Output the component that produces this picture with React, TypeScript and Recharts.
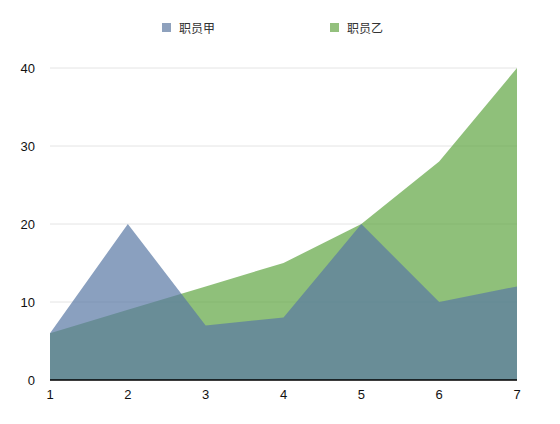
import React from 'react';
import { AreaChart, Area, XAxis, YAxis, CartesianGrid, Legend } from 'recharts';

const categories = [1, 2, 3, 4, 5, 6, 7];
const staffA = [6, 20, 7, 8, 20, 10, 12];
const staffB = [6, 9, 12, 15, 20, 28, 40];
const yTicks = [0, 10, 20, 30, 40];
const seriesNames = ['职员甲', '职员乙'];
const legendColors = ['#8ea1bd', '#93c07d'];

const data = categories.map((c, i) => ({ x: c, a: staffA[i], b: staffB[i] }));

const font = '"Liberation Sans", Arial, sans-serif';

const renderLegend = () => (
  <div style={{ position: 'relative', width: 560, height: 20 }}>
    {seriesNames.map((name, i) => (
      <div
        key={name}
        style={{
          position: 'absolute',
          left: i === 0 ? 162 : 330,
          top: 0,
          display: 'flex',
          alignItems: 'center',
          fontFamily: '"Noto Sans CJK SC", sans-serif',
          fontSize: 12,
          color: '#333',
        }}
      >
        <span style={{ display: 'inline-block', width: 9, height: 9, background: legendColors[i], marginRight: 8 }} />
        <span>{name}</span>
      </div>
    ))}
  </div>
);

export default function App() {
  return (
    <div style={{ position: 'absolute', left: 0, top: 0, width: 560, height: 424, background: '#fff' }}>
      <AreaChart width={560} height={424} data={data} margin={{ top: 68, right: 43, bottom: 0, left: 10 }}>
        <CartesianGrid horizontal vertical={false} stroke="#e4e4e4" />
        <Legend
          content={renderLegend}
          wrapperStyle={{ position: 'absolute', top: 19, left: 0, width: 560, height: 20 }}
          height={0}
        />
        <XAxis
          dataKey="x"
          axisLine={{ stroke: '#000', strokeWidth: 1.5 }}
          tickLine={false}
          tick={{ fill: '#111', fontSize: 13, fontFamily: font }}
          height={24}
          tickMargin={4}
        />
        <YAxis
          domain={[0, 40]}
          ticks={yTicks}
          axisLine={false}
          tickLine={false}
          tick={{ fill: '#111', fontSize: 13, fontFamily: font }}
          width={40}
          tickMargin={9}
        />
        <Area
          type="linear"
          dataKey="b"
          name={seriesNames[1]}
          stroke="none"
          fill="#60a541"
          fillOpacity={0.7}
          isAnimationActive={false}
        />
        <Area
          type="linear"
          dataKey="a"
          name={seriesNames[0]}
          stroke="none"
          fill="#5877a4"
          fillOpacity={0.7}
          isAnimationActive={false}
        />
      </AreaChart>
    </div>
  );
}
